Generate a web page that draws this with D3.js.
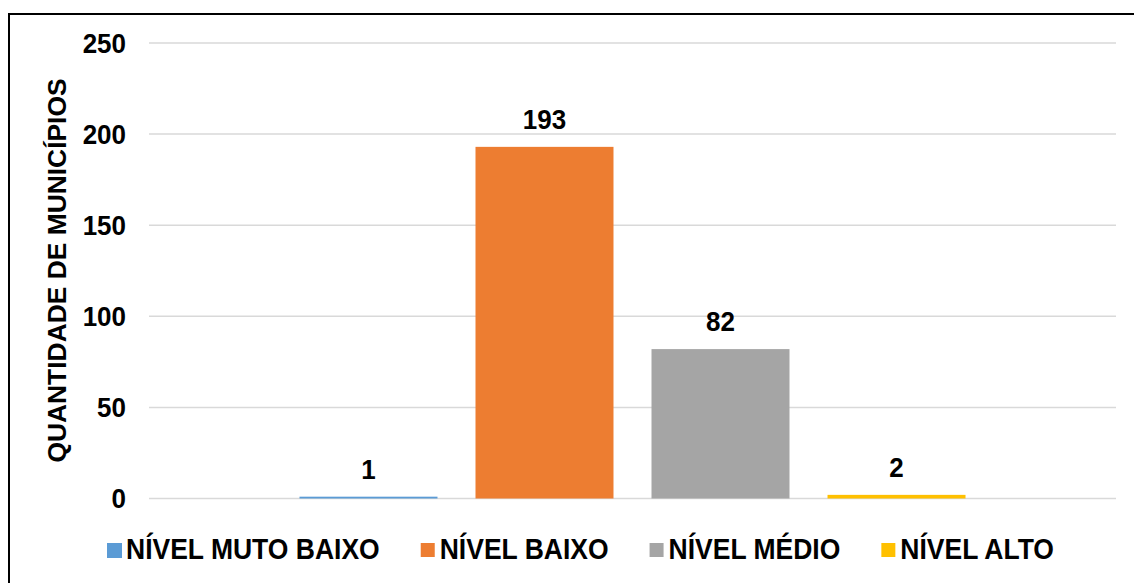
<!DOCTYPE html>
<html>
<head>
<meta charset="utf-8">
<title>Quantidade de municípios</title>
<script src="https://d3js.org/d3.v7.min.js"></script>
<style>
body{ margin:0; background:#fff; }
svg text{ font-family:"Liberation Sans", Arial, sans-serif; font-weight:bold; fill:#000; font-size:26px; }
</style>
</head>
<body>
<svg id="chart" width="1134" height="583"></svg>
<script>
// dados
var categorias = ["NÍVEL MUTO BAIXO", "NÍVEL BAIXO", "NÍVEL MÉDIO", "NÍVEL ALTO"];
var valores = [1, 193, 82, 2];
var cores = ["#5B9BD5", "#ED7D31", "#A5A5A5", "#FFC000"];
var ticksY = [0, 50, 100, 150, 200, 250];
var tituloY = "QUANTIDADE DE MUNICÍPIOS";

var esticar = " scale(1,1.08)";   // texto do original e um pouco mais alto

var svg = d3.select("#chart");

// moldura
svg.append("rect")
  .attr("x", 9).attr("y", 14)
  .attr("width", 1140).attr("height", 600)
  .attr("fill", "none").attr("stroke", "#000").attr("stroke-width", 2);

var x = d3.scaleBand()
  .domain(categorias)
  .range([149, 1116])
  .paddingInner(0.216)
  .paddingOuter(0.855);

var y = d3.scaleLinear().domain([0, 250]).range([498.5, 43]);

// grade
svg.append("g").selectAll("line")
  .data(ticksY)
  .enter().append("line")
    .attr("x1", 149).attr("x2", 1116)
    .attr("y1", function(d){ return y(d); })
    .attr("y2", function(d){ return y(d); })
    .attr("stroke", "#d9d9d9").attr("stroke-width", 1.5);

// rotulos eixo y
var eixoY = d3.axisLeft(y).tickValues(ticksY).tickSize(0).tickPadding(0);
var gy = svg.append("g").attr("transform", "translate(126,0)").call(eixoY);
gy.select(".domain").remove();
gy.attr("font-size", null).attr("font-family", null);
gy.selectAll("text")
  .attr("dy", "0.33em")
  .attr("transform", "scale(1,1.08)")
  .attr("fill", "#000");

svg.append("text")
  .attr("transform", "translate(66,270.5) rotate(-90)")
  .attr("text-anchor", "middle")
  .style("font-size", "26.4px")
  .text(tituloY);

// barras
svg.append("g").selectAll("rect")
  .data(valores)
  .enter().append("rect")
    .attr("x", function(d, i){ return x(categorias[i]); })
    .attr("y", function(d){ return y(d); })
    .attr("width", x.bandwidth())
    .attr("height", function(d){ return y(0) - y(d); })
    .attr("fill", function(d, i){ return cores[i]; });

svg.append("g").selectAll("text")
  .data(valores)
  .enter().append("text")
    .attr("transform", function(d, i){
      return "translate(" + (x(categorias[i]) + x.bandwidth() / 2) + "," + (y(d) - 18) + ")" + esticar;
    })
    .attr("text-anchor", "middle")
    .text(function(d){ return d; });

// legenda
var legX = 107, legGap = 41, marca = 14;
var leg = svg.append("g");
categorias.forEach(function(c, i){
  leg.append("rect")
    .attr("x", legX).attr("y", 543)
    .attr("width", marca + (i == 0 ? 1 : 0)).attr("height", marca + (i == 0 ? 1 : 0))
    .attr("fill", cores[i]);
  var t = leg.append("text")
    .attr("transform", "translate(" + (legX + marca + 5) + ",559)" + esticar)
    .style("font-size", "26.5px")
    .text(c);
  legX = legX + marca + 5 + t.node().getComputedTextLength() + legGap;
});
</script>
</body>
</html>
